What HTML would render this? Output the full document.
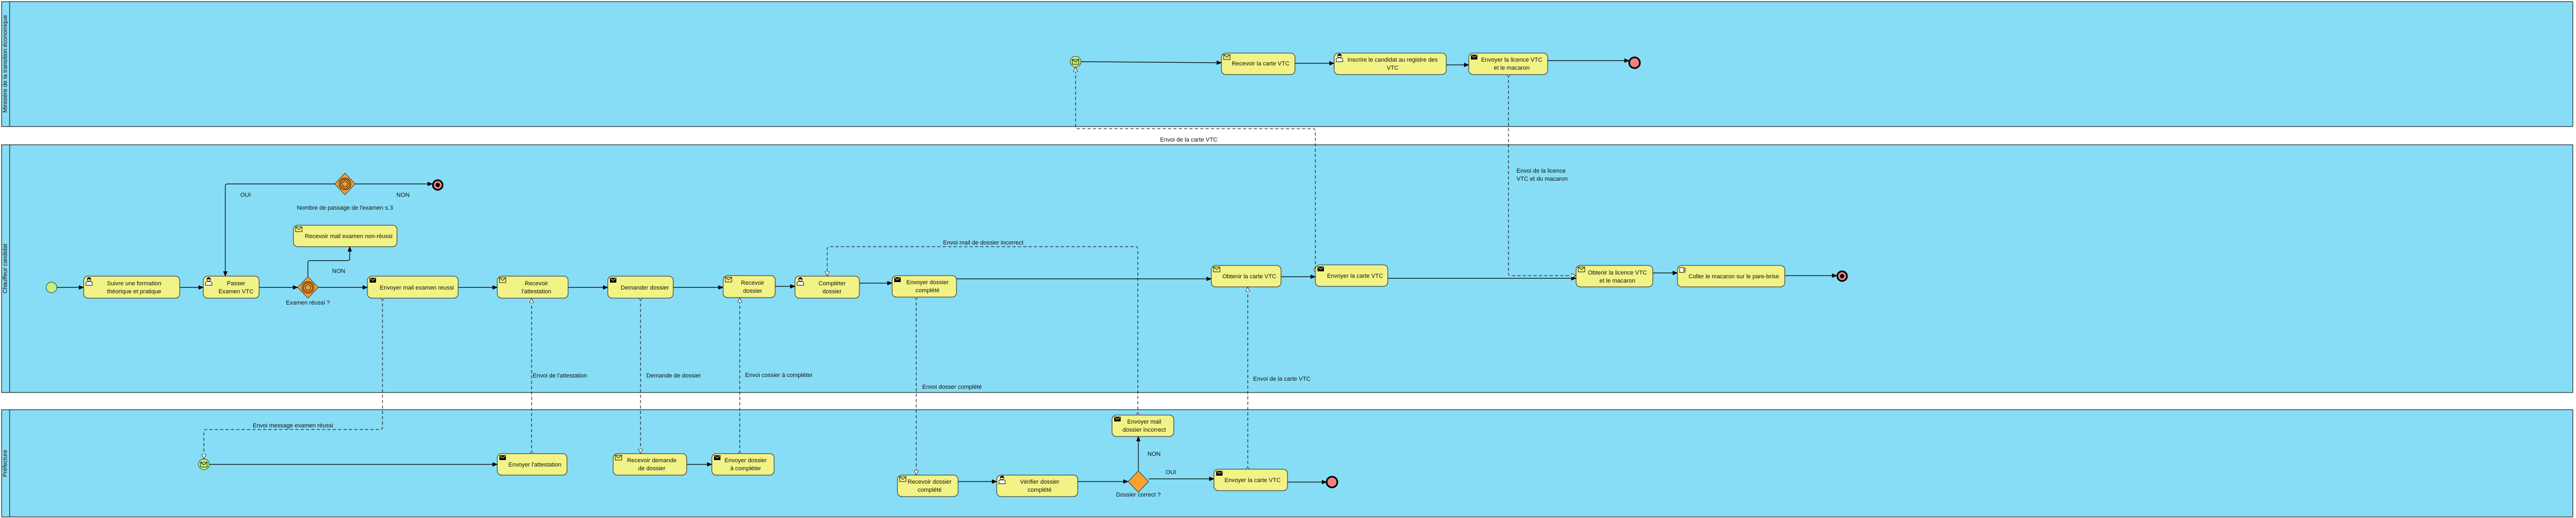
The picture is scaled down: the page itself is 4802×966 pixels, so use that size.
<!DOCTYPE html>
<html><head><meta charset="utf-8"><style>
html,body{margin:0;padding:0;background:#fff;}
svg{display:block;}
text{font-family:"Liberation Sans",sans-serif;font-size:11px;fill:#111;}
.t{text-anchor:middle;}
.lane{fill:#87DDF5;stroke:#222;stroke-width:1.2;}
.task{fill:#F2F386;stroke:#222;stroke-width:1;}
.sf{fill:none;stroke:#000;stroke-width:1.2;marker-end:url(#ar);}
.mf{fill:none;stroke:#000;stroke-width:1;stroke-dasharray:6,4;marker-start:url(#mc);marker-end:url(#mt);}
.gw{fill:#F7A033;stroke:#333;stroke-width:1;}
.end{fill:#F08080;stroke:#000;stroke-width:3;}
</style></head><body>
<svg width="4802" height="966" viewBox="0 0 4802 966" xmlns="http://www.w3.org/2000/svg">
<defs>
<marker id="ar" markerWidth="10" markerHeight="10" refX="9" refY="5" orient="auto" markerUnits="userSpaceOnUse"><path d="M0,1 L10,5 L0,9 z" fill="#000"/></marker>
<marker id="mt" markerWidth="10" markerHeight="10" refX="9" refY="5" orient="auto" markerUnits="userSpaceOnUse"><path d="M0,1 L9,5 L0,9 z" fill="#fff" stroke="#000" stroke-width="0.8"/></marker>
<marker id="mc" markerWidth="8" markerHeight="8" refX="4" refY="4" orient="auto" markerUnits="userSpaceOnUse"><circle cx="4" cy="4" r="2.8" fill="#fff" stroke="#000" stroke-width="0.8"/></marker>
<g id="env"><rect x="0" y="0" width="12" height="9" fill="none" stroke="#000" stroke-width="0.9"/><path d="M0,0 L6,5 L12,0" fill="none" stroke="#000" stroke-width="0.9"/></g>
<g id="envb"><rect x="0" y="0" width="12" height="9" fill="#000"/><path d="M1,1 L6,5 L11,1" fill="none" stroke="#fff" stroke-width="0.9"/></g>
<g id="usr"><circle cx="6" cy="4" r="3.5" fill="#fff" stroke="#000" stroke-width="0.9"/><path d="M6,1 a3.5,3 0 0 0 -3.5,3 h7 a3.5,3 0 0 0 -3.5,-3z" fill="#000"/><path d="M0,15 v-4 q0,-3 4,-3 h4 q4,0 4,3 v4 z" fill="#fff" stroke="#000" stroke-width="0.9"/></g>
<g id="gwi"><circle r="11" fill="none" stroke="#000" stroke-width="0.9"/><circle r="8.5" fill="none" stroke="#000" stroke-width="0.9"/><path d="M0,-6 L5.7,-1.9 L3.5,4.9 L-3.5,4.9 L-5.7,-1.9 z" fill="none" stroke="#000" stroke-width="0.9"/></g>
</defs>

<text x="2" y="9" style="font-size:8px;fill:#888">Visual Paradigm Standard(IUT ANNECY)</text>

<!-- Lanes -->
<rect class="lane" x="3" y="3" width="4793" height="233"/>
<line x1="18" y1="3" x2="18" y2="236" stroke="#222" stroke-width="1.2"/>
<text class="t" transform="translate(13,119) rotate(-90)">Ministère de la transition économique</text>

<rect class="lane" x="3" y="270" width="4793" height="462"/>
<line x1="18" y1="270" x2="18" y2="732" stroke="#222" stroke-width="1.2"/>
<text class="t" transform="translate(13,501) rotate(-90)">Chauffeur candidat</text>

<rect class="lane" x="3" y="764" width="4793" height="200"/>
<line x1="18" y1="764" x2="18" y2="964" stroke="#222" stroke-width="1.2"/>
<text class="t" transform="translate(13,864) rotate(-90)">Préfecture</text>

<!-- Sequence flows lane 2 -->
<path class="sf" d="M106,536 H156"/>
<path class="sf" d="M335,536 H379"/>
<path class="sf" d="M483,536 H555"/>
<path class="sf" d="M593,536 H685"/>
<path class="sf" d="M574,516 V490 Q574,486 578,486 H648 Q652,486 652,482 V460"/>
<path class="sf" d="M643,323 V352"/>
<path class="sf" d="M624,343 H424 Q420,343 420,347 V515"/>
<path class="sf" d="M662,343 H806"/>
<path class="sf" d="M854,536 H927"/>
<path class="sf" d="M1059,536 H1133"/>
<path class="sf" d="M1255,536 H1348"/>
<path class="sf" d="M1445,534 H1482"/>
<path class="sf" d="M1602,528 H1663"/>
<path class="sf" d="M1783,520 H2258"/>
<path class="sf" d="M2388,516 H2452"/>
<path class="sf" d="M2587,519 H2938"/>
<path class="sf" d="M3081,509 H3127"/>
<path class="sf" d="M3327,514 H3424"/>
<!-- lane 1 -->
<path class="sf" d="M2015,115 L2277,117"/>
<path class="sf" d="M2414,118 H2487"/>
<path class="sf" d="M2696,121 H2738"/>
<path class="sf" d="M2885,113 H3037"/>
<!-- lane 3 -->
<path class="sf" d="M390,866 H927"/>
<path class="sf" d="M1280,866 H1327"/>
<path class="sf" d="M1786,898 H1858"/>
<path class="sf" d="M2009,898 H2103"/>
<path class="sf" d="M2141,893 H2263"/>
<path class="sf" d="M2122,878 V814"/>
<path class="sf" d="M2400,899 H2473"/>

<!-- Message flows -->
<path class="mf" d="M713,556 V797 Q713,801 709,801 H384 Q380,801 380,805 V856"/>
<path class="mf" d="M991,846 V556"/>
<path class="mf" d="M1194,556 V846"/>
<path class="mf" d="M1379,846 V555"/>
<path class="mf" d="M1708,554 V886"/>
<path class="mf" d="M2121,774 V464 Q2121,460 2117,460 H1546 Q1542,460 1542,464 V515"/>
<path class="mf" d="M2326,875 V535"/>
<path class="mf" d="M2452,503 V244 Q2452,240 2448,240 H2009 Q2005,240 2005,236 V125"/>
<path class="mf" d="M2812,139 V510 Q2812,514 2816,514 H2938"/>

<!-- Flow labels -->
<text x="448" y="367">OUI</text>
<text x="739" y="367">NON</text>
<text x="619" y="509">NON</text>
<text class="t" x="643" y="391">Nombre de passage de l'examen ≤ 3</text>
<text class="t" x="574" y="568">Examen réussi ?</text>
<text class="t" x="546" y="797">Envoi message examen réussi</text>
<text x="993" y="704">Envoi de l'attestation</text>
<text x="1205" y="704">Demande de dossier</text>
<text x="1389" y="703">Envoi cossier à compléter</text>
<text x="1719" y="725">Envoi dosser complété</text>
<text x="1758" y="456">Envoi mail de dossier incorrect</text>
<text x="2336" y="710">Envoi de la carte VTC</text>
<text class="t" x="2216" y="264">Envoi de la carte VTC</text>
<text x="2827" y="322">Envoi de la licence</text>
<text x="2827" y="337">VTC et du macaron</text>
<text x="2139" y="850">NON</text>
<text x="2173" y="884">OUI</text>
<text class="t" x="2122" y="926">Dossier correct ?</text>

<!-- Gateways -->
<path class="gw" d="M574,516 L593,536 L574,556 L555,536 z"/>
<use href="#gwi" x="574" y="536"/>
<path class="gw" d="M643,323 L662,343 L643,363 L624,343 z"/>
<use href="#gwi" x="643" y="343"/>
<path class="gw" d="M2122,878 L2141,898 L2122,918 L2103,898 z"/>

<!-- Events -->
<circle cx="96" cy="536" r="10" fill="#C2F07A" stroke="#333" stroke-width="1"/>
<circle cx="2005" cy="115" r="10" fill="#C2F07A" stroke="#333" stroke-width="1"/>
<use href="#env" x="1999" y="111"/>
<circle cx="380" cy="866" r="10" fill="#C2F07A" stroke="#333" stroke-width="1"/>
<use href="#env" x="374" y="862"/>
<circle class="end" cx="816" cy="345" r="9"/>
<circle cx="816" cy="345" r="4" fill="#000"/>
<circle class="end" cx="3047" cy="117" r="10"/>
<circle class="end" cx="3434" cy="515" r="9"/>
<circle cx="3434" cy="515" r="4" fill="#000"/>
<circle class="end" cx="2483" cy="899" r="10"/>

<!-- Tasks lane 2 -->
<rect class="task" x="156" y="515" width="179" height="41" rx="8"/><use href="#usr" x="160" y="517"/>
<text class="t" x="250" y="532">Suivre une formation</text><text class="t" x="250" y="547">théorique et pratique</text>
<rect class="task" x="379" y="515" width="104" height="41" rx="8"/><use href="#usr" x="383" y="517"/>
<text class="t" x="440" y="532">Passer</text><text class="t" x="440" y="547">Examen VTC</text>
<rect class="task" x="685" y="515" width="169" height="41" rx="8"/><use href="#envb" x="689" y="518"/>
<text class="t" x="777" y="540">Envoyer mail examen reussi</text>
<rect class="task" x="547" y="420" width="193" height="40" rx="8"/><use href="#env" x="551" y="423"/>
<text class="t" x="650" y="444">Recevoir mail examen non-réussi</text>
<rect class="task" x="927" y="515" width="132" height="41" rx="8"/><use href="#env" x="931" y="518"/>
<text class="t" x="1000" y="532">Recevoir</text><text class="t" x="1000" y="547">l'attestation</text>
<rect class="task" x="1133" y="515" width="122" height="41" rx="8"/><use href="#envb" x="1137" y="518"/>
<text class="t" x="1202" y="540">Demander dossier</text>
<rect class="task" x="1348" y="514" width="97" height="41" rx="8"/><use href="#env" x="1352" y="517"/>
<text class="t" x="1403" y="531">Recevoir</text><text class="t" x="1403" y="546">dossier</text>
<rect class="task" x="1482" y="515" width="120" height="41" rx="8"/><use href="#usr" x="1486" y="517"/>
<text class="t" x="1551" y="532">Compléter</text><text class="t" x="1551" y="547">dossier</text>
<rect class="task" x="1663" y="514" width="120" height="40" rx="8"/><use href="#envb" x="1667" y="517"/>
<text class="t" x="1729" y="530">Envoyer dossier</text><text class="t" x="1729" y="545">complété</text>
<rect class="task" x="2258" y="495" width="130" height="40" rx="8"/><use href="#env" x="2262" y="498"/>
<text class="t" x="2329" y="519">Obtenir la carte VTC</text>
<rect class="task" x="2452" y="494" width="135" height="40" rx="8"/><use href="#envb" x="2456" y="497"/>
<text class="t" x="2526" y="518">Envoyer la carte VTC</text>
<rect class="task" x="2938" y="495" width="143" height="40" rx="8"/><use href="#env" x="2942" y="498"/>
<text class="t" x="3015" y="512">Obtenir la licence VTC</text><text class="t" x="3015" y="527">et le macaron</text>
<rect class="task" x="3127" y="495" width="200" height="40" rx="8"/>
<path d="M3131,499 h8 v9 h-8 z M3139,501 h4 M3139,504 h4 M3139,507 h3" fill="#fff" stroke="#000" stroke-width="0.9"/>
<text class="t" x="3232" y="519">Coller le macaron sur le pare-brise</text>

<!-- Tasks lane 1 -->
<rect class="task" x="2277" y="99" width="137" height="40" rx="8"/><use href="#env" x="2281" y="102"/>
<text class="t" x="2350" y="122">Recevoir la carte VTC</text>
<rect class="task" x="2487" y="99" width="209" height="40" rx="8"/><use href="#usr" x="2491" y="100"/>
<text class="t" x="2596" y="115">Inscrire le candidat au registre des</text><text class="t" x="2596" y="130">VTC</text>
<rect class="task" x="2738" y="99" width="147" height="40" rx="8"/><use href="#envb" x="2742" y="102"/>
<text class="t" x="2818" y="115">Envoyer la licence VTC</text><text class="t" x="2818" y="130">et le macaron</text>

<!-- Tasks lane 3 -->
<rect class="task" x="927" y="846" width="130" height="40" rx="8"/><use href="#envb" x="931" y="849"/>
<text class="t" x="997" y="870">Envoyer l'attestation</text>
<rect class="task" x="1143" y="846" width="137" height="40" rx="8"/><use href="#env" x="1147" y="849"/>
<text class="t" x="1215" y="862">Recevoir demande</text><text class="t" x="1215" y="877">de dossier</text>
<rect class="task" x="1327" y="846" width="116" height="40" rx="8"/><use href="#envb" x="1331" y="849"/>
<text class="t" x="1390" y="862">Envoyer dossier</text><text class="t" x="1390" y="877">à compléter</text>
<rect class="task" x="1673" y="886" width="113" height="40" rx="8"/><use href="#env" x="1677" y="889"/>
<text class="t" x="1733" y="902">Recevoir dossier</text><text class="t" x="1733" y="917">complété</text>
<rect class="task" x="1858" y="886" width="151" height="40" rx="8"/><use href="#usr" x="1862" y="887"/>
<text class="t" x="1938" y="902">Vérifier dossier</text><text class="t" x="1938" y="917">complété</text>
<rect class="task" x="2073" y="774" width="115" height="40" rx="8"/><use href="#envb" x="2077" y="777"/>
<text class="t" x="2133" y="790">Envoyer mail</text><text class="t" x="2133" y="805">dossier incorrect</text>
<rect class="task" x="2263" y="875" width="137" height="40" rx="8"/><use href="#envb" x="2267" y="878"/>
<text class="t" x="2335" y="899">Envoyer la carte VTC</text>
</svg>
</body></html>
